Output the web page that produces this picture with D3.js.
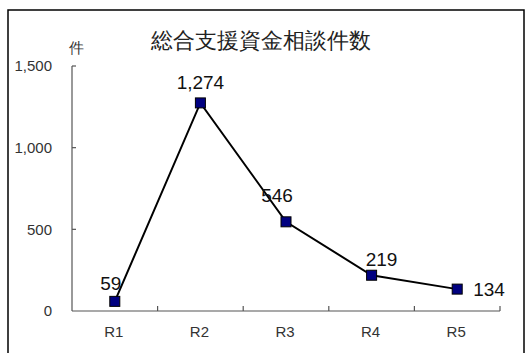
<!DOCTYPE html>
<html>
<head>
<meta charset="utf-8">
<script src="https://cdn.jsdelivr.net/npm/d3@7"></script>
<style>
  body { margin: 0; background: #fff; }
  text { font-family: "Liberation Sans", Arial, sans-serif; }
</style>
</head>
<body>
<svg width="529" height="353"></svg>
<script>
// data
const categories = ["R1", "R2", "R3", "R4", "R5"];
const values = [59, 1274, 546, 219, 134];
const labels = ["59", "1,274", "546", "219", "134"];
const yTicks = [0, 500, 1000, 1500];
const title = "総合支援資金相談件数";
const unit = "件";

// label offsets from the marker (dx, dy, anchor) - placed like the original
const labelPos = [
  { dx: -4, dy: -11, anchor: "middle" },
  { dx: 0, dy: -14, anchor: "middle" },
  { dx: -9, dy: -20, anchor: "middle" },
  { dx: 10, dy: -9, anchor: "middle" },
  { dx: 16, dy: 7, anchor: "start" }
];

const svg = d3.select("svg");

// frame
svg.append("rect")
  .attr("x", 8).attr("y", 10)
  .attr("width", 516).attr("height", 360)
  .attr("fill", "none")
  .attr("stroke", "#000")
  .attr("stroke-width", 1.5);

const plotLeft = 72, plotRight = 500, plotTop = 66, plotBottom = 311;

const x = d3.scaleBand().domain(categories).range([plotLeft, plotRight]);
const y = d3.scaleLinear().domain([0, 1500]).range([plotBottom, plotTop]);

// y axis
const yAxis = svg.append("g").attr("transform", "translate(" + plotLeft + ",0)");
yAxis.append("line")
  .attr("x1", 0).attr("x2", 0)
  .attr("y1", y(1500)).attr("y2", y(0))
  .attr("stroke", "#555").attr("stroke-width", 1.2);
yAxis.selectAll(".tick").data(yTicks.filter(d => d > 0)).enter()
  .append("line")
  .attr("x1", 0).attr("x2", 4)
  .attr("y1", d => y(d)).attr("y2", d => y(d))
  .attr("stroke", "#555").attr("stroke-width", 1.2);
yAxis.selectAll(".lbl").data(yTicks).enter()
  .append("text")
  .attr("x", -20)
  .attr("y", d => y(d))
  .attr("dy", "0.36em")
  .attr("text-anchor", "end")
  .attr("font-size", 15)
  .attr("fill", "#333")
  .text(d => d3.format(",")(d));

// x axis
const xAxis = svg.append("g").attr("transform", "translate(0," + plotBottom + ")");
xAxis.append("line")
  .attr("x1", plotLeft).attr("x2", plotRight)
  .attr("y1", 0).attr("y2", 0)
  .attr("stroke", "#555").attr("stroke-width", 1.2);
xAxis.selectAll(".tick").data(categories).enter()
  .append("line")
  .attr("x1", d => x(d) + x.bandwidth()).attr("x2", d => x(d) + x.bandwidth())
  .attr("y1", 0).attr("y2", -5)
  .attr("stroke", "#555").attr("stroke-width", 1.2);
xAxis.selectAll(".lbl").data(categories).enter()
  .append("text")
  .attr("x", d => x(d) + x.bandwidth() / 2 - 1)
  .attr("y", 26)
  .attr("text-anchor", "middle")
  .attr("font-size", 15)
  .attr("fill", "#333")
  .text(d => d);

// title and unit
svg.append("text")
  .attr("x", 261).attr("y", 48)
  .attr("text-anchor", "middle")
  .attr("font-family", "'Noto Sans CJK JP', sans-serif")
  .attr("font-size", 22)
  .attr("fill", "#222")
  .text(title);

svg.append("text")
  .attr("x", 69).attr("y", 53)
  .attr("font-family", "'Noto Sans CJK JP', sans-serif")
  .attr("font-size", 15)
  .attr("fill", "#333")
  .text(unit);

// line
const pts = categories.map((c, i) => ({ c: c, v: values[i], i: i }));
const line = d3.line()
  .x(d => x(d.c) + x.bandwidth() / 2)
  .y(d => y(d.v));

svg.append("path")
  .datum(pts)
  .attr("d", line)
  .attr("fill", "none")
  .attr("stroke", "#000")
  .attr("stroke-width", 2);

// markers
svg.selectAll(".mk").data(pts).enter()
  .append("rect")
  .attr("x", d => x(d.c) + x.bandwidth() / 2 - 5)
  .attr("y", d => y(d.v) - 5)
  .attr("width", 10).attr("height", 10)
  .attr("fill", "#000080")
  .attr("stroke", "#000")
  .attr("stroke-width", 1);

// data labels
svg.selectAll(".dl").data(pts).enter()
  .append("text")
  .attr("x", d => x(d.c) + x.bandwidth() / 2 + labelPos[d.i].dx)
  .attr("y", d => y(d.v) + labelPos[d.i].dy)
  .attr("text-anchor", d => labelPos[d.i].anchor)
  .attr("font-size", 19)
  .attr("fill", "#111")
  .text(d => labels[d.i]);
</script>
</body>
</html>
